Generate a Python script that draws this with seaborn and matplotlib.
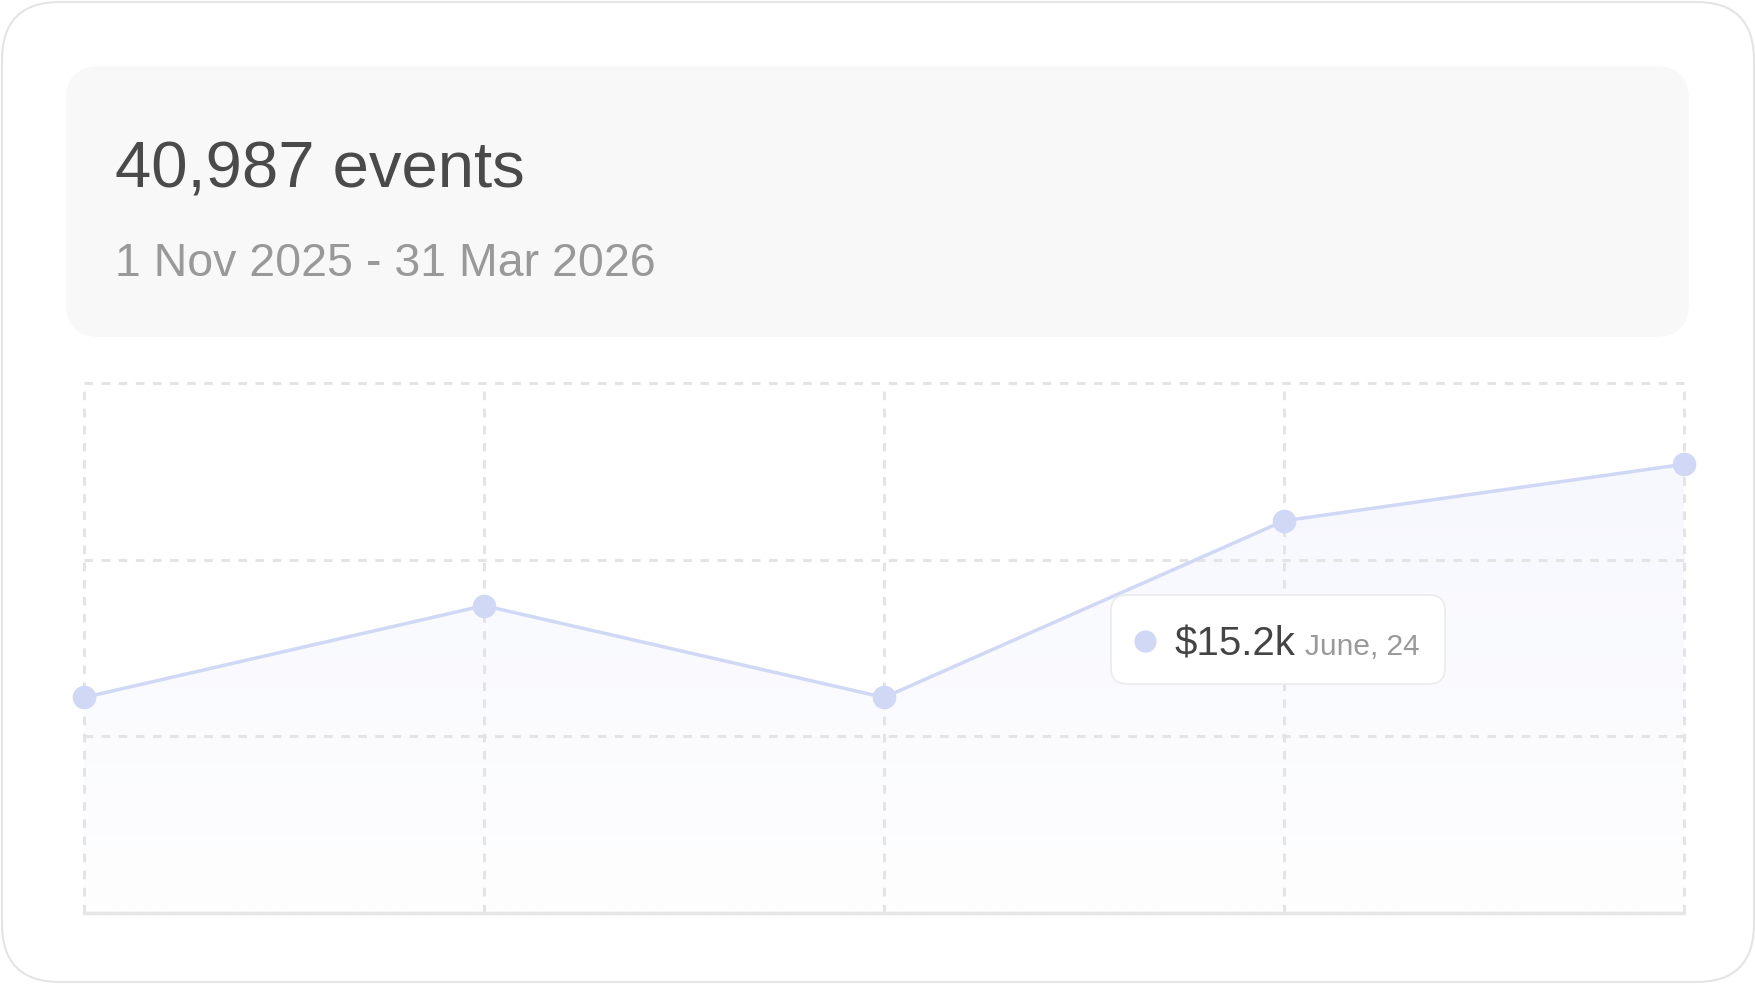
import numpy as np
import pandas as pd
import seaborn as sns
import matplotlib.pyplot as plt
from matplotlib.patches import FancyBboxPatch
from matplotlib.colors import LinearSegmentedColormap

# chart values ($k per month)
months = ["Nov", "Dec", "Jan", "Feb", "Mar"]
revenue_k = [6.1, 8.7, 6.1, 11.1, 12.7]
y_ticks = [0, 5, 10, 15]

title_text = "40,987 events"
period_text = "1 Nov 2025 - 31 Mar 2026"
tip_value = "$15.2k"
tip_date = "June, 24"

df = pd.DataFrame({"month": months, "revenue": revenue_k})

sns.set_theme(style="white")
plt.rcParams["font.family"] = ["Liberation Sans", "DejaVu Sans"]

W, H = 1756, 984
fig = plt.figure(figsize=(W / 100, H / 100), dpi=100)

# ---------- card + header (pixel coords) ----------
bg = fig.add_axes([0, 0, 1, 1])
bg.set_xlim(0, W)
bg.set_ylim(H, 0)
bg.axis("off")

bg.add_patch(FancyBboxPatch((2, 2), W - 4, H - 4,
                            boxstyle="round,pad=0,rounding_size=58",
                            fc="white", ec="#e4e4e4", lw=1.5))
bg.add_patch(FancyBboxPatch((66, 66), 1623, 271,
                            boxstyle="round,pad=0,rounding_size=34",
                            fc="#f8f8f8", ec="none"))
bg.text(115, 188, title_text, fontsize=47, color="#4a4a4a", va="baseline")
bg.text(115, 276, period_text, fontsize=33.5, color="#999999", va="baseline")

# ---------- line chart ----------
ax = fig.add_axes([84 / W, (H - 913) / H, 1600 / W, 530 / H])
ax.set_facecolor("none")
ax.set_axisbelow(True)

sns.lineplot(data=df, x="month", y="revenue", ax=ax, color="#d0d8f5",
             lw=2.5, marker="o", markersize=17, markeredgewidth=0,
             clip_on=False, zorder=4)

# soft gradient under the line (kept below the grid)
poly = ax.fill_between(months, revenue_k, 0, color="none", lw=0)
cmap = LinearSegmentedColormap.from_list("fade", ["#fefeff", "#f7f8fe"])
grad = np.linspace(0, 1, 256).reshape(-1, 1)
im = ax.imshow(grad, cmap=cmap, origin="lower", aspect="auto",
               extent=[0, len(months) - 1, 0, max(revenue_k)], zorder=0.1)
im.set_clip_path(poly.get_paths()[0], transform=ax.transData)

ax.set_xlim(0, len(months) - 1)
ax.set_ylim(y_ticks[0], y_ticks[-1])
ax.set_xticks(range(len(months)))
ax.set_yticks(y_ticks)
ax.grid(True, color="#e4e4e4", lw=2.2, linestyle=(0, (2.8, 2.8)))
for gl in ax.get_xgridlines() + ax.get_ygridlines():
    gl.set_clip_on(False)
ax.tick_params(length=0, labelbottom=False, labelleft=False)
ax.set_xlabel("")
ax.set_ylabel("")
for s in ["top", "right", "left"]:
    ax.spines[s].set_visible(False)
ax.spines["bottom"].set_color("#e6e6e6")
ax.spines["bottom"].set_linewidth(2.5)
ax.spines["bottom"].set_zorder(3)

# ---------- tooltip overlay ----------
top = fig.add_axes([0, 0, 1, 1])
top.set_xlim(0, W)
top.set_ylim(H, 0)
top.axis("off")
top.patch.set_alpha(0)
top.add_patch(FancyBboxPatch((1111, 595), 334, 89,
                             boxstyle="round,pad=0,rounding_size=16",
                             fc="white", ec="#ebebeb", lw=1.2))
top.plot([1145], [641], "o", color="#d0d8f5", markersize=16, markeredgewidth=0)
top.text(1175, 655, tip_value, fontsize=29, color="#444444", va="baseline")
top.text(1305, 655, tip_date, fontsize=21.5, color="#999999", va="baseline")

fig.savefig("out.png", dpi=100)
